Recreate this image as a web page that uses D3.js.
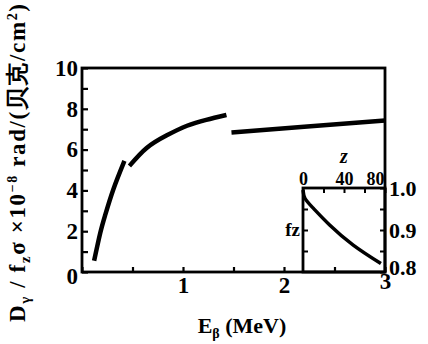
<!DOCTYPE html>
<html lang="en">
<head>
  <meta charset="UTF-8">
  <title>Beta dose vs energy</title>
  <style>
    body { margin: 0; background: #fff; }
    svg { display: block; }
    text { font-family: "Liberation Serif", "DejaVu Serif", serif; font-weight: bold; fill: #000; }
    .axis text { font-size: 23px; }
    .inset text { font-size: 18px; }
  </style>
</head>
<body>
  <svg id="chart" width="428" height="344"></svg>

  <script src="https://d3js.org/d3.v7.min.js"></script>
  <script>
    // main curve, three pieces (E in MeV, D)
    const seg1E = [0.12, 0.18, 0.23, 0.31, 0.42];
    const seg1D = [0.55, 1.9, 2.8, 4.05, 5.45];
    const seg2E = [0.47, 0.64, 0.84, 1.04, 1.23, 1.43];
    const seg2D = [5.2, 6.08, 6.7, 7.17, 7.46, 7.7];
    const seg3E = [1.48, 2.2, 3.0];
    const seg3D = [6.84, 7.12, 7.43];

    // inset: fz against z
    const insetZ = [0, 2, 10, 26, 49, 76];
    const insetF = [0.995, 0.975, 0.952, 0.912, 0.864, 0.82];

    const xTicks = [0, 0.5, 1, 1.5, 2, 2.5, 3];
    const yTicks = [0, 1, 2, 3, 4, 5, 6, 7, 8, 9, 10];
    const zTicks = [0, 20, 40, 60, 80];
    const fTicks = [0.8, 0.85, 0.9, 0.95, 1.0];

    const svg = d3.select("#chart");

    const x = d3.scaleLinear().domain([0, 3]).range([82, 385]);
    const y = d3.scaleLinear().domain([0, 10]).range([272, 68]);
    const xz = d3.scaleLinear().domain([0, 80]).range([303, 385]);
    const yf = d3.scaleLinear().domain([0.8, 1.0]).range([272, 188]);

    const zip = (a, b) => a.map((v, i) => [v, b[i]]);

    // frame
    svg.append("rect")
      .attr("x", x(0)).attr("y", y(10))
      .attr("width", x(3) - x(0)).attr("height", y(0) - y(10))
      .attr("fill", "none").attr("stroke", "#000").attr("stroke-width", 2.8);

    // main axes
    const yAxis = svg.append("g").attr("class", "axis")
      .attr("transform", `translate(${x(0)},0)`)
      .call(d3.axisLeft(y).tickValues(yTicks).tickSize(-6).tickPadding(4)
        .tickFormat(d => d % 2 === 0 ? d : ""));

    const xAxis = svg.append("g").attr("class", "axis")
      .attr("transform", `translate(0,${y(0)})`)
      .call(d3.axisBottom(x).tickValues(xTicks).tickSize(-5).tickPadding(5)
        .tickFormat(d => Number.isInteger(d) && d > 0 ? d : ""));

    [yAxis, xAxis].forEach(g => {
      g.select(".domain").remove();
      g.selectAll("line").attr("stroke", "#000").attr("stroke-width", 2.2);
    });
    yAxis.selectAll("text").filter(d => d === 0).attr("dy", "0.5em");
    xAxis.selectAll("text").filter(d => d === 3).attr("dy", "0.5em");

    // curves
    const line = d3.line().x(d => x(d[0])).y(d => y(d[1])).curve(d3.curveNatural);
    [zip(seg1E, seg1D), zip(seg2E, seg2D), zip(seg3E, seg3D)].forEach(seg => {
      svg.append("path").datum(seg)
        .attr("d", line)
        .attr("fill", "none").attr("stroke", "#000").attr("stroke-width", 4.5);
    });

    // inset
    const inset = svg.append("g").attr("class", "inset");

    inset.append("rect")
      .attr("x", xz(0)).attr("y", yf(1.0))
      .attr("width", xz(80) - xz(0)).attr("height", yf(0.8) - yf(1.0))
      .attr("fill", "none").attr("stroke", "#000").attr("stroke-width", 2.8);

    const zAxis = inset.append("g")
      .attr("transform", `translate(0,${yf(1.0)})`)
      .call(d3.axisTop(xz).tickValues(zTicks).tickSize(-5).tickPadding(3)
        .tickFormat(d => d % 40 === 0 ? d : ""));

    const fAxisR = inset.append("g")
      .attr("transform", `translate(${xz(80)},0)`)
      .call(d3.axisRight(yf).tickValues(fTicks).tickSize(-5).tickPadding(4)
        .tickFormat(d => Math.abs(d * 10 - Math.round(d * 10)) < 1e-6 ? d3.format(".1f")(d) : ""));

    const fAxisL = inset.append("g")
      .attr("transform", `translate(${xz(0)},0)`)
      .call(d3.axisLeft(yf).tickValues(fTicks.slice(1, 4)).tickSize(-5).tickFormat(""));

    [zAxis, fAxisR, fAxisL].forEach(g => {
      g.select(".domain").remove();
      g.selectAll("line").attr("stroke", "#000").attr("stroke-width", 2);
    });
    zAxis.selectAll("text").filter(d => d === 80).attr("text-anchor", "end").attr("dx", -1);
    fAxisR.selectAll("text").style("font-size", "22px");
    fAxisR.selectAll("text").filter(d => d === 0.8).attr("dy", "0.1em");

    const insetLine = d3.line().x(d => xz(d[0])).y(d => yf(d[1])).curve(d3.curveNatural);
    inset.append("path").datum(zip(insetZ, insetF))
      .attr("d", insetLine)
      .attr("fill", "none").attr("stroke", "#000").attr("stroke-width", 3.5);

    inset.append("text")
      .attr("x", xz(40)).attr("y", 163)
      .attr("text-anchor", "middle")
      .style("font-style", "italic").style("font-size", "20px")
      .text("z");

    inset.append("text")
      .attr("x", xz(0) - 3).attr("y", yf(0.9) + 6)
      .attr("text-anchor", "end").style("font-size", "19px")
      .text("fz");

    // axis titles
    const xt = svg.append("text")
      .attr("x", 242).attr("y", 333)
      .attr("text-anchor", "middle").style("font-size", "22px");
    xt.append("tspan").text("E");
    xt.append("tspan").attr("dy", 5).style("font-size", "14px").text("β");
    xt.append("tspan").attr("dy", -5).text(" (MeV)");

    const yt = svg.append("text")
      .attr("transform", "translate(25,163) rotate(-90)")
      .attr("text-anchor", "middle").style("font-size", "23px")
      .attr("textLength", 318).attr("lengthAdjust", "spacing");
    yt.append("tspan").text("D");
    yt.append("tspan").attr("dy", 5).style("font-size", "15px").text("γ");
    yt.append("tspan").attr("dy", -5).text(" / f");
    yt.append("tspan").attr("dy", 5).style("font-size", "15px").text("z");
    yt.append("tspan").attr("dy", -5).text("σ ×10");
    yt.append("tspan").attr("dy", -8).style("font-size", "14px").text("−8");
    yt.append("tspan").attr("dy", 8).text(" rad/(贝克/cm");
    yt.append("tspan").attr("dy", -8).style("font-size", "14px").text("2");
    yt.append("tspan").attr("dy", 8).text(")");
  </script>
</body>
</html>
